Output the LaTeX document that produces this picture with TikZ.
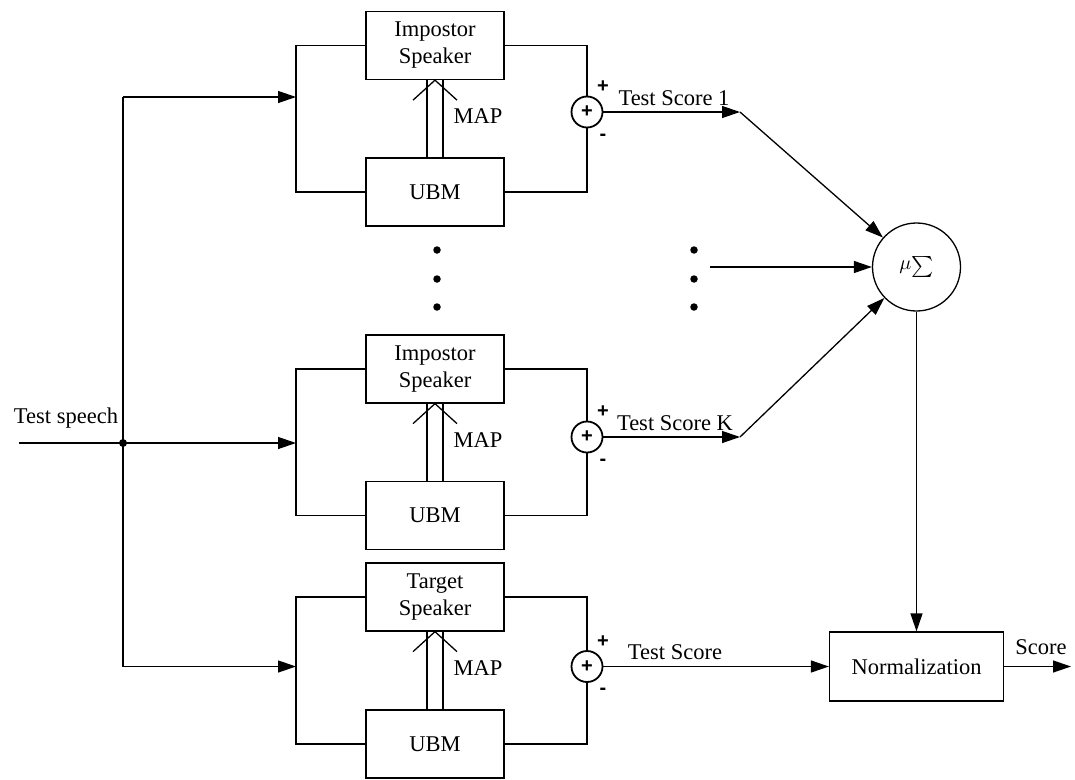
\documentclass[tikz,border=0pt]{standalone}
\usepackage{fontspec}
\setmainfont{Liberation Serif}
\newfontfamily\pmfont{Liberation Sans}
\usetikzlibrary{arrows.meta}
\begin{document}
\begin{tikzpicture}[x=1pt,y=-1pt,
  line width=1.3pt,
  >={Triangle[length=18pt,width=12pt]},
  every node/.style={font=\fontsize{22.5}{27}\selectfont, inner sep=0pt},
  blk/.style={draw, minimum width=138pt, minimum height=68pt, align=center},
  addc/.style={draw, circle, line width=1.8pt, minimum size=31pt, fill=white,
               font=\pmfont\bfseries\fontsize{20}{20}\selectfont},
  pm/.style={font=\pmfont\bfseries\fontsize{20}{20}\selectfont},
  lbl/.style={anchor=center},
  dot/.style={circle, fill, minimum size=8pt}]
\useasboundingbox (0,0) rectangle (1075,779);

% three scoring branches: speaker model adapted from the UBM, and a comparator
\foreach \i/\ys/\yu/\ya/\yc/\who in {1/45.5/192/97/112/Impostor,
                                      2/369/515.5/443/437/Impostor,
                                      3/597/744/666.5/666.5/Target}{
  \node[blk] (spk\i) at (435,\ys) {\who\\Speaker};
  \node[blk] (ubm\i) at (435,\yu) {UBM};
  \node[addc] (add\i) at (587,\yc) {+};
  \coordinate (in\i) at (296,\ya);
  \coordinate (lt\i) at (296,\ys);
  \coordinate (lb\i) at (296,\yu);
  \coordinate (tap\i) at (123,\ya);
  % loop feeding both models
  \draw (spk\i.west) -- (lt\i) -- (lb\i) -- (ubm\i.west);
  \draw[->] (tap\i) -- (in\i);
  % outputs to the comparator
  \draw (spk\i.east) -| (add\i.north);
  \draw (ubm\i.east) -| (add\i.south);
  \node[pm] at ([xshift=16pt,yshift=25pt]add\i.center) {+};
  \node[pm] at ([xshift=16pt,yshift=-25pt]add\i.center) {-};
  % MAP adaptation (double arrow)
  \draw ([xshift=-8pt]ubm\i.north) -- ([xshift=-8pt]spk\i.south);
  \draw ([xshift=8pt]ubm\i.north) -- ([xshift=8pt]spk\i.south);
  \draw ([xshift=-22pt,yshift=-20pt]spk\i.south) -- (spk\i.south)
        -- ([xshift=22pt,yshift=-20pt]spk\i.south);
  \node[anchor=west] at ([xshift=18pt,yshift=-36pt]spk\i.south) {MAP};
}

% test speech input and distribution bus
\coordinate (src) at (19,443);
\draw (tap1) -- (tap3);
\draw (src) -- (tap2);
\node[dot] (junc) at (tap2) {};
\node[lbl] (tsp) at (66,418) {Test speech};

% impostor score combination
\node[draw, circle, minimum size=88pt] (sum) at (916.5,267)
  {\fontsize{10}{12}\selectfont\raisebox{3pt}{\scalebox{2}{$\mu$}}\scalebox{2.1}{$\sum$}};
\coordinate (ts1) at (740,112);
\coordinate (tsk) at (740,437);
\draw[->] (add1.east) -- (ts1);
\draw[->] (add2.east) -- (tsk);
\draw[->] (ts1) -- (sum);
\draw[->] (tsk) -- (sum);
\node[lbl] at (674,98) {Test Score 1};
\node[lbl] at (675,423) {Test Score K};

\foreach \y [count=\k] in {250,279,307}{
  \node[dot, minimum size=7.5pt] (dl\k) at (437,\y) {};
  \node[dot, minimum size=7.5pt] (dr\k) at (694,\y) {};
}
\coordinate (dotsrc) at (710,267);
\draw[->] (dotsrc) -- (sum.west);

% normalization of the target score
\node[blk, minimum width=174pt, minimum height=69pt] (norm) at (916.5,666.5) {Normalization};
\draw[->] (add3.east) -- (norm.west);
\node[lbl] at (675,652) {Test Score};
\draw[->] (sum.south) -- (norm.north);
\coordinate (out) at (1071,666.5);
\draw[->] (norm.east) -- (out);
\node[lbl] at (1041,647) {Score};
\end{tikzpicture}
\end{document}
